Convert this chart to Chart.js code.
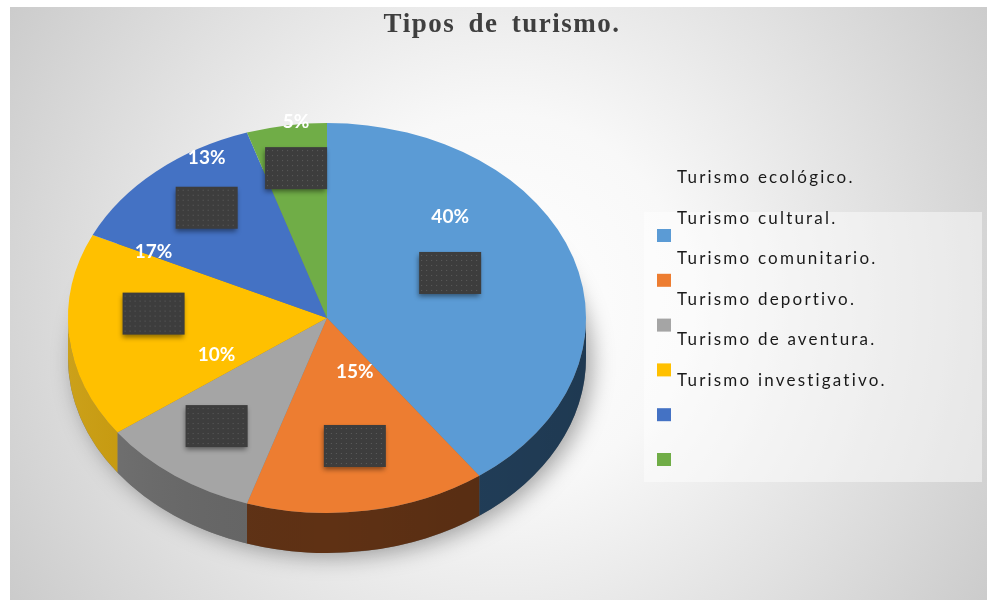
<!DOCTYPE html>
<html>
<head>
<meta charset="utf-8">
<script src="https://cdn.jsdelivr.net/npm/chart.js@4.4.1/dist/chart.umd.min.js"></script>
<style>
  html, body { margin: 0; padding: 0; background: #fff; }
  #wrap { width: 987px; height: 600px; position: relative; }
</style>
</head>
<body>
<div id="wrap"><canvas id="pieChart"></canvas></div>
<script>
// Datos del gráfico
const titulo = 'Tipos de turismo.';
const categorias = ['Turismo ecológico.', 'Turismo cultural.', 'Turismo comunitario.', 'Turismo deportivo.', 'Turismo de aventura.', 'Turismo investigativo.'];
const porcentajes = [40, 15, 10, 17, 13, 5];

// Estilo
const colores = ['#5B9BD5', '#ED7D31', '#A5A5A5', '#FFC000', '#4472C4', '#70AD47'];
const coloresLado = ['#23415d', '#5f3114', '#666666', '#c69600', '#2b4a83', '#4a7530'];
const APLASTE = 195 / 259;   // relacion alto/ancho de la elipse
const GROSOR = 40;           // grosor del canto en px

// Fondo con degradado radial
const fondo = {
    id: 'fondo',
    beforeDraw(chart) {
        const ctx = chart.ctx;
        ctx.save();
        ctx.fillStyle = '#fff';
        ctx.fillRect(0, 0, chart.width, chart.height);
        const g = ctx.createRadialGradient(500, 300, 0, 500, 300, 620);
        g.addColorStop(0, '#ffffff');
        g.addColorStop(0.3, '#f8f8f8');
        g.addColorStop(1, '#c6c6c6');
        ctx.fillStyle = g;
        ctx.fillRect(10, 7, chart.width - 10, chart.height - 7);
        ctx.restore();
    }
};

// Pastel en 3D: canto + cara superior aplastada
const pastel3d = {
    id: 'pastel3d',
    beforeDatasetsDraw(chart) {
        const ctx = chart.ctx;
        const meta = chart.getDatasetMeta(0);
        const { x, y, outerRadius: r } = meta.data[0].getProps(['x', 'y', 'outerRadius'], true);
        const off = GROSOR / APLASTE;

        // sombra
        ctx.save();
        ctx.shadowColor = 'rgba(0,0,0,0.35)';
        ctx.shadowBlur = 22;
        ctx.shadowOffsetX = 6;
        ctx.shadowOffsetY = 4;
        ctx.translate(x, y);
        ctx.scale(1, APLASTE);
        ctx.beginPath();
        ctx.arc(0, off, r, 0, Math.PI * 2);
        ctx.fillStyle = '#777';
        ctx.fill();
        ctx.restore();

        // canto de cada porcion
        ctx.save();
        ctx.translate(x, y);
        ctx.scale(1, APLASTE);
        meta.data.forEach((arc, i) => {
            const { startAngle, endAngle } = arc.getProps(['startAngle', 'endAngle'], true);
            const a1 = Math.max(startAngle, 0);
            const a2 = Math.min(endAngle, Math.PI);
            if (a2 <= a1) return;
            ctx.beginPath();
            ctx.arc(0, 0, r, a1, a2);
            ctx.arc(0, off, r, a2, a1, true);
            ctx.closePath();
            ctx.fillStyle = coloresLado[i];
            ctx.fill();
        });
        // luz desde la izquierda
        const luz = ctx.createLinearGradient(-r, 0, r, 0);
        luz.addColorStop(0, 'rgba(255,255,255,0.10)');
        luz.addColorStop(0.5, 'rgba(0,0,0,0)');
        luz.addColorStop(1, 'rgba(0,0,0,0.12)');
        ctx.beginPath();
        ctx.arc(0, 0, r, 0, Math.PI);
        ctx.arc(0, off, r, Math.PI, 0, true);
        ctx.closePath();
        ctx.fillStyle = luz;
        ctx.fill();
        ctx.restore();

        // cara superior
        ctx.save();
        ctx.translate(x, y);
        ctx.scale(1, APLASTE);
        ctx.translate(-x, -y);
    },
    afterDatasetsDraw(chart) {
        const ctx = chart.ctx;
        ctx.restore();

        const meta = chart.getDatasetMeta(0);
        const total = porcentajes.reduce((a, b) => a + b, 0);
        meta.data.forEach((arc, i) => {
            const { x, y, startAngle, endAngle, outerRadius: r } =
                arc.getProps(['x', 'y', 'startAngle', 'endAngle', 'outerRadius'], true);
            const mid = (startAngle + endAngle) / 2;
            const f = 0.8 - 0.75 * porcentajes[i] / total;
            const s = Math.sin(mid);
            // ligera perspectiva: el fondo se ve mas corto que el frente
            const ry = r * (s < 0 ? 0.676 : 0.83);
            const bx = x + r * f * Math.cos(mid);
            const by = y - 18 + ry * f * s;

            // caja oscura
            ctx.save();
            ctx.shadowColor = 'rgba(0,0,0,0.45)';
            ctx.shadowBlur = 5;
            ctx.shadowOffsetX = -1;
            ctx.shadowOffsetY = 3;
            ctx.fillStyle = '#3d3d3d';
            ctx.fillRect(bx - 31, by - 21, 62, 42);
            ctx.restore();
            ctx.fillStyle = '#5e5e5e';
            for (let dy = 3; dy < 42; dy += 5) {
                for (let dx = ((dy / 5) % 2 ? 2 : 4); dx < 62; dx += 5) {
                    ctx.fillRect(bx - 31 + dx, by - 21 + dy, 1, 1);
                }
            }

            // porcentaje
            ctx.save();
            ctx.fillStyle = '#ffffff';
            ctx.font = 'bold 19px Lato';
            ctx.textAlign = 'center';
            ctx.textBaseline = 'middle';
            ctx.fillText(porcentajes[i] + '%', bx, by - (60 + 14 * s));
            ctx.restore();
        });
    }
};

// Titulo y leyenda
const textos = {
    id: 'textos',
    afterDraw(chart) {
        const ctx = chart.ctx;
        ctx.save();
        ctx.fillStyle = '#3f3f3f';
        ctx.font = 'bold 27px "Liberation Serif"';
        ctx.letterSpacing = '1.5px';
        ctx.wordSpacing = '5px';
        ctx.textAlign = 'center';
        ctx.textBaseline = 'alphabetic';
        ctx.fillText(titulo, 502, 32);

        ctx.fillStyle = 'rgba(255,255,255,0.45)';
        ctx.fillRect(644, 212, 338, 270);

        ctx.font = '17px Lato';
        ctx.letterSpacing = '2.2px';
        ctx.wordSpacing = '0px';
        ctx.textAlign = 'left';
        ctx.textBaseline = 'middle';
        categorias.forEach((c, i) => {
            ctx.fillStyle = colores[i];
            ctx.fillRect(657, 229 + 44.8 * i, 14, 13);
            ctx.fillStyle = '#1a1a1a';
            ctx.fillText(c, 677, 178 + 40.5 * i);
        });
        ctx.restore();
    }
};

new Chart(document.getElementById('pieChart'), {
    type: 'pie',
    data: {
        labels: categorias,
        datasets: [{
            data: porcentajes,
            backgroundColor: colores,
            borderWidth: 0,
            hoverOffset: 0,
            clip: false
        }]
    },
    options: {
        responsive: true,
        maintainAspectRatio: false,
        animation: false,
        events: [],
        layout: { padding: { left: 68, right: 401, top: 59, bottom: 23 } },
        plugins: {
            legend: { display: false },
            tooltip: { enabled: false },
            title: { display: false }
        }
    },
    plugins: [fondo, pastel3d, textos]
});
</script>
</body>
</html>
